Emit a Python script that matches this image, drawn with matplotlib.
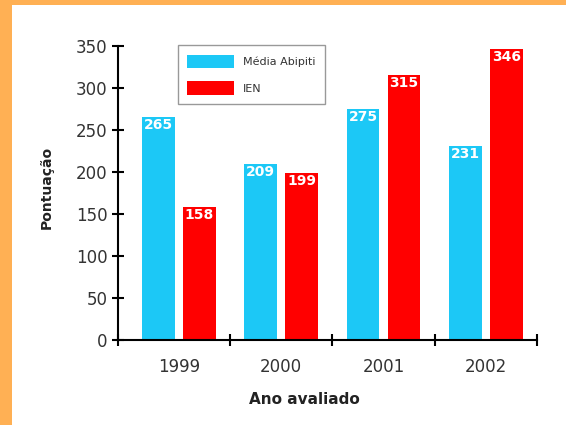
import matplotlib.pyplot as plt
from matplotlib.patches import Rectangle

anos = ["1999", "2000", "2001", "2002"]
media_abipti = [265, 209, 275, 231]
ien = [158, 199, 315, 346]
series_nomes = ["Média Abipiti", "IEN"]

ciano = "#1CC8F6"
vermelho = "#FF0000"
laranja = "#FFB054"

fig = plt.figure(figsize=(5.66, 4.25), dpi=100)
fig.patch.set_facecolor("white")

# moldura laranja (esquerda e topo)
fig.patches.append(Rectangle((0, 0), 12 / 566, 1, transform=fig.transFigure,
                             facecolor=laranja, edgecolor="none", zorder=0))
fig.patches.append(Rectangle((0, 1 - 5 / 425), 1, 5 / 425, transform=fig.transFigure,
                             facecolor=laranja, edgecolor="none", zorder=0))

ax = fig.add_axes([118 / 566, 1 - 340 / 425, (537 - 118) / 566, 294 / 425])

x = list(range(len(anos)))
larg = 0.32
b1 = ax.bar([i - 0.2 for i in x], media_abipti, larg, color=ciano, label=series_nomes[0], zorder=2)
b2 = ax.bar([i + 0.2 for i in x], ien, larg, color=vermelho, label=series_nomes[1], zorder=2)

for barras in (b1, b2):
    for r in barras:
        ax.text(r.get_x() + r.get_width() / 2, r.get_height() - 1, str(int(r.get_height())),
                ha="center", va="top", color="white", fontsize=10, fontweight="bold", zorder=3)

ax.set_xlim(-0.595, 3.5)
ax.set_ylim(0, 350)
ax.set_yticks(range(0, 351, 50))
ax.set_xticks([-0.595, 0.5, 1.5, 2.5, 3.5])
ax.set_xticklabels([])
ax.set_xticks(x, minor=True)
ax.set_xticklabels(anos, minor=True)
ax.tick_params(axis="x", which="minor", length=0, pad=13, labelsize=12, labelcolor="#333333")
ax.tick_params(axis="x", which="major", direction="inout", length=9, width=1.5)
ax.tick_params(axis="y", direction="inout", length=9, width=1.5, labelsize=12,
               labelcolor="#333333", pad=3)

for s in ["top", "right"]:
    ax.spines[s].set_visible(False)
for s in ["left", "bottom"]:
    ax.spines[s].set_linewidth(1.5)

ax.set_xlabel("Ano avaliado", fontsize=11, fontweight="bold", color="#222222")
ax.xaxis.set_label_coords(0.444, -0.177)
ax.set_ylabel("Pontuação", fontsize=10, fontweight="bold", color="#222222")
ax.yaxis.set_label_coords(-0.153, 0.52)

leg = ax.legend(loc="upper left", bbox_to_anchor=(0.143, 1.003), fontsize=8,
                handlelength=4.2, handleheight=1.5, labelspacing=1.2,
                fancybox=False, framealpha=1, borderpad=0.85, handletextpad=0.8,
                borderaxespad=0)
leg.get_frame().set_edgecolor("#999999")
leg.get_frame().set_linewidth(1.0)
for t in leg.get_texts():
    t.set_color("#333333")

fig.savefig("out.png", dpi=100)
